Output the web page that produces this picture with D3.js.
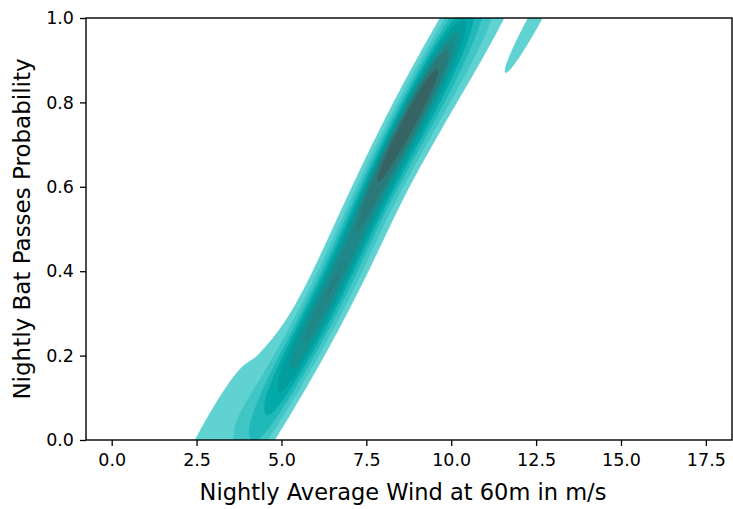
<!DOCTYPE html>
<html>
<head>
<meta charset="utf-8">
<script src="https://cdn.jsdelivr.net/npm/d3@7"></script>
<style>
  body { margin: 0; background: #fff; }
  svg { display: block; }
  text { font-family: "DejaVu Sans", sans-serif; fill: #000; }
</style>
</head>
<body>
<svg id="chart" width="733" height="509"></svg>
<script>
// Nightly observations: average wind speed (m/s) and bat-pass probability
const windSpeed = [
  2.6, 3.3, 4.0, 4.5,  3.0, 3.7, 4.4,  3.6, 4.3, 4.9,  4.2, 4.7, 5.2,
  4.85, 5.3,  5.05, 5.45, 5.85,  5.3, 5.7,  5.45, 5.85, 6.2,  5.65, 6.05,
  5.85, 6.2, 6.6,  6.05, 6.45,  6.2, 6.6, 6.95,  6.4, 6.8,  6.6, 6.95, 7.3,  6.8, 7.15,
  6.95, 7.35,  7.1, 7.5,  7.3, 7.7,  7.45, 7.85,  7.6, 7.95,  7.75, 8.1, 8.45,
  7.95, 8.25, 8.6,  8.1, 8.4, 8.75, 9.1,  8.3, 8.55, 8.9,  8.45, 8.75, 9.05, 9.4,
  8.6, 8.9, 9.25,  8.8, 9.1, 9.4, 9.75,  8.95, 9.25, 9.6,  9.15, 9.45, 9.8, 10.2,
  9.35, 9.65, 10.0,  9.55, 9.9, 10.3, 10.8,  9.8, 10.2, 10.6,  10.1, 10.5, 10.9, 11.4,
  8.2, 8.35, 8.5, 8.65, 8.8, 8.95, 9.1, 9.25, 9.4, 9.55,
  5.35, 5.75, 6.15, 6.55, 6.95,
  12.4, 12.55
];
const batPassProb = [
  0.00, 0.00, 0.00, 0.00,  0.04, 0.04, 0.04,  0.08, 0.08, 0.08,  0.12, 0.12, 0.12,
  0.15, 0.15,  0.18, 0.18, 0.18,  0.21, 0.21,  0.24, 0.24, 0.24,  0.27, 0.27,
  0.30, 0.30, 0.30,  0.33, 0.33,  0.36, 0.36, 0.36,  0.39, 0.39,  0.42, 0.42, 0.42,  0.45, 0.45,
  0.48, 0.48,  0.51, 0.51,  0.54, 0.54,  0.57, 0.57,  0.60, 0.60,  0.63, 0.63, 0.63,
  0.66, 0.66, 0.66,  0.69, 0.69, 0.69, 0.69,  0.72, 0.72, 0.72,  0.75, 0.75, 0.75, 0.75,
  0.78, 0.78, 0.78,  0.81, 0.81, 0.81, 0.81,  0.84, 0.84, 0.84,  0.87, 0.87, 0.87, 0.87,
  0.90, 0.90, 0.90,  0.93, 0.93, 0.93, 0.93,  0.96, 0.96, 0.96,  1.00, 1.00, 1.00, 1.00,
  0.68, 0.70, 0.72, 0.74, 0.76, 0.78, 0.80, 0.82, 0.85, 0.88,
  0.16, 0.23, 0.30, 0.37, 0.44,
  1.00, 1.00
];

const xTicks = [0, 2.5, 5, 7.5, 10, 12.5, 15, 17.5];
const yTicks = [0, 0.2, 0.4, 0.6, 0.8, 1.0];
const xDomain = [-0.757, 18.27];
const yDomain = [0, 1];
const xLabel = "Nightly Average Wind at 60m in m/s";
const yLabel = "Nightly Bat Passes Probability";
const seedColor = "#00bfbf";

// KDE settings (Scott bandwidth, 10 iso-proportion levels, 5% threshold)
const nLevels = 10, thresh = 0.05, gridSize = 200, cut = 3;

// ---------- HUSL helpers for the sequential colormap ----------
const M = [[3.2406, -1.5372, -0.4986], [-0.9689, 1.8758, 0.0415], [0.0557, -0.2040, 1.0570]];
const MINV = [[0.4124, 0.3576, 0.1805], [0.2126, 0.7152, 0.0722], [0.0193, 0.1192, 0.9505]];
const refU = 0.19784, refV = 0.46834, kappa = 903.3, eps = 0.008856;

function maxChroma(L, H) {
  const hr = H * Math.PI / 180, sinH = Math.sin(hr), cosH = Math.cos(hr);
  const sub1 = Math.pow(L + 16, 3) / 1560896;
  const sub2 = sub1 > eps ? sub1 : L / kappa;
  let res = Infinity;
  for (const [m1, m2, m3] of M) {
    const tp = (0.99915 * m1 + 1.05122 * m2 + 1.14460 * m3) * sub2;
    const rb = 0.86330 * m3 - 0.17266 * m2;
    const lb = 0.12949 * m3 - 0.38848 * m1;
    const bt = (rb * sinH + lb * cosH) * sub2;
    for (const t of [0, 1]) {
      const C = L * (tp - 1.05122 * t) / (bt + 0.17266 * sinH * t);
      if (C > 0 && C < res) res = C;
    }
  }
  return res;
}
const toLin = c => c > 0.04045 ? Math.pow((c + 0.055) / 1.055, 2.4) : c / 12.92;
const fromLin = c => c <= 0.0031308 ? 12.92 * c : 1.055 * Math.pow(c, 1 / 2.4) - 0.055;

function rgbToHusl(r, g, b) {
  const lin = [toLin(r), toLin(g), toLin(b)];
  const [X, Y, Z] = MINV.map(row => row[0] * lin[0] + row[1] * lin[1] + row[2] * lin[2]);
  const den = X + 15 * Y + 3 * Z;
  const vu = 4 * X / den, vv = 9 * Y / den;
  const L = Y > eps ? 116 * Math.cbrt(Y) - 16 : Y * kappa;
  const U = 13 * L * (vu - refU), V = 13 * L * (vv - refV);
  const C = Math.hypot(U, V);
  let H = Math.atan2(V, U) * 180 / Math.PI; if (H < 0) H += 360;
  return [H, C / maxChroma(L, H) * 100, L];
}
function huslToRgb(H, S, L) {
  const C = maxChroma(L, H) / 100 * S;
  const hr = H * Math.PI / 180;
  const U = C * Math.cos(hr), V = C * Math.sin(hr);
  const t = (L + 16) / 116;
  const Y = Math.pow(t, 3) > eps ? Math.pow(t, 3) : (116 * t - 16) / kappa;
  const vu = U / (13 * L) + refU, vv = V / (13 * L) + refV;
  const X = -(9 * Y * vu) / ((vu - 4) * vv - vu * vv);
  const Z = (9 * Y - 15 * vv * Y - vv * X) / (3 * vv);
  return M.map(row => {
    const c = fromLin(row[0] * X + row[1] * Y + row[2] * Z);
    return Math.round(Math.max(0, Math.min(1, c)) * 255);
  });
}

// 256-entry colormap running from light to dark around the seed hue
const seed = d3.rgb(seedColor);
const [seedH, seedS] = rgbToHusl(seed.r / 255, seed.g / 255, seed.b / 255);
const rampN = Math.floor(1.15 * 256);
const cmap = d3.range(256).map(i => {
  const j = 255 - i;
  const xx = -1 + 2 * j / (rampN - 1);
  const [r, g, b] = huslToRgb(seedH, seedS * Math.cos(xx), 35 + 45 * j / 255);
  return `rgb(${r},${g},${b})`;
});

// ---------- Gaussian KDE with full covariance ----------
const n = windSpeed.length;
const mx = d3.mean(windSpeed), my = d3.mean(batPassProb);
let sxx = 0, syy = 0, sxy = 0;
for (let i = 0; i < n; i++) {
  const dx = windSpeed[i] - mx, dy = batPassProb[i] - my;
  sxx += dx * dx; syy += dy * dy; sxy += dx * dy;
}
sxx /= (n - 1); syy /= (n - 1); sxy /= (n - 1);
const factor = Math.pow(n, -1 / 6);
const kxx = sxx * factor * factor, kyy = syy * factor * factor, kxy = sxy * factor * factor;
const det = kxx * kyy - kxy * kxy;
const ixx = kyy / det, iyy = kxx / det, ixy = -kxy / det;
const kNorm = 1 / (n * 2 * Math.PI * Math.sqrt(det));

const bwx = Math.sqrt(kxx), bwy = Math.sqrt(kyy);
const gx0 = d3.min(windSpeed) - cut * bwx, gx1 = d3.max(windSpeed) + cut * bwx;
const gy0 = d3.min(batPassProb) - cut * bwy, gy1 = d3.max(batPassProb) + cut * bwy;
const stepX = (gx1 - gx0) / (gridSize - 1), stepY = (gy1 - gy0) / (gridSize - 1);

const density = new Float64Array(gridSize * gridSize);
for (let j = 0; j < gridSize; j++) {
  const yv = gy0 + j * stepY;
  for (let i = 0; i < gridSize; i++) {
    const xv = gx0 + i * stepX;
    let s = 0;
    for (let k = 0; k < n; k++) {
      const dx = xv - windSpeed[k], dy = yv - batPassProb[k];
      s += Math.exp(-0.5 * (ixx * dx * dx + 2 * ixy * dx * dy + iyy * dy * dy));
    }
    density[j * gridSize + i] = s * kNorm;
  }
}

// Iso-proportion levels
const sorted = Array.from(density).sort((a, b) => b - a);
const total = d3.sum(sorted);
const cum = []; let acc = 0;
for (const v of sorted) { acc += v; cum.push(acc / total); }
const levels = d3.range(nLevels).map(i => {
  const q = thresh + (1 - thresh) * i / (nLevels - 1);
  const idx = Math.min(d3.bisectLeft(cum, 1 - q), sorted.length - 1);
  return sorted[idx];
});

// ---------- Drawing ----------
const svg = d3.select("#chart");
const plotL = 86, plotR = 732, plotT = 18, plotB = 440;
const x = d3.scaleLinear().domain(xDomain).range([plotL, plotR]);
const y = d3.scaleLinear().domain(yDomain).range([plotB, plotT]);

svg.append("clipPath").attr("id", "plot-clip")
  .append("rect").attr("x", plotL).attr("y", plotT)
  .attr("width", plotR - plotL).attr("height", plotB - plotT);

const contours = d3.contours().size([gridSize, gridSize]).thresholds(levels.slice(0, -1))(density);
const path = d3.geoPath(d3.geoTransform({
  point(px, py) {
    this.stream.point(x(gx0 + (px - 0.5) * stepX), y(gy0 + (py - 0.5) * stepY));
  }
}));

const lo = levels[0], hi = levels[levels.length - 1];
const bandColor = i => {
  const mid = (levels[i] + levels[i + 1]) / 2;
  const t = (mid - lo) / (hi - lo);
  return cmap[Math.max(0, Math.min(255, Math.floor(t * 256)))];
};

svg.append("g").attr("clip-path", "url(#plot-clip)")
  .selectAll("path").data(contours).join("path")
  .attr("d", path)
  .attr("fill", (d, i) => bandColor(i))
  .attr("stroke", (d, i) => bandColor(i))
  .attr("stroke-width", 0.3);

// Axes
const xAxis = d3.axisBottom(x).tickValues(xTicks).tickFormat(d3.format(".1f"))
  .tickSize(6).tickSizeOuter(0).tickPadding(8);
const yAxis = d3.axisLeft(y).tickValues(yTicks).tickFormat(d3.format(".1f"))
  .tickSize(6).tickSizeOuter(0).tickPadding(6);

const gX = svg.append("g").attr("transform", `translate(0,${plotB})`).call(xAxis);
const gY = svg.append("g").attr("transform", `translate(${plotL},0)`).call(yAxis);
[gX, gY].forEach(g => {
  g.select(".domain").remove();
  g.selectAll(".tick line").attr("stroke", "#000").attr("stroke-width", 1.3);
  g.selectAll(".tick text").attr("font-size", 17.5).attr("fill", "#000")
    .style("font-family", "'DejaVu Sans', sans-serif");
});

// Spines
svg.append("rect").attr("x", plotL).attr("y", plotT)
  .attr("width", plotR - plotL).attr("height", plotB - plotT)
  .attr("fill", "none").attr("stroke", "#000").attr("stroke-width", 1.4);

// Axis titles
svg.append("text").attr("x", (plotL + plotR) / 2 - 6).attr("y", 500)
  .attr("text-anchor", "middle").attr("font-size", 22.5).text(xLabel);
svg.append("text").attr("transform", `translate(30,${(plotT + plotB) / 2}) rotate(-90)`)
  .attr("text-anchor", "middle").attr("font-size", 23).text(yLabel);
</script>
</body>
</html>
